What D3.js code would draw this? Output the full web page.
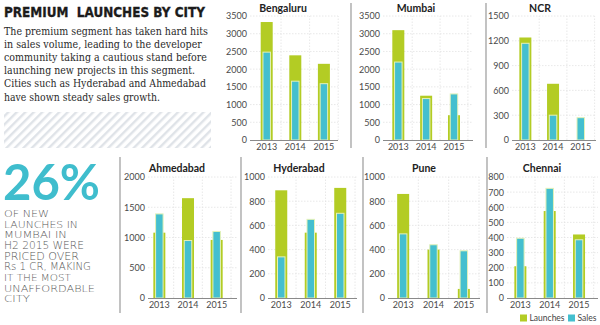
<!DOCTYPE html>
<html><head><meta charset="utf-8">
<script src="https://cdn.jsdelivr.net/npm/d3@7"></script>
<style>html,body{margin:0;padding:0;background:#fff;}svg{display:block;}</style>
</head><body>
<svg id="c" width="600" height="325"></svg>
<script>
// ---- data ----
const years = ["2013", "2014", "2015"];
const cities = ["Bengaluru", "Mumbai", "NCR", "Ahmedabad", "Hyderabad", "Pune", "Chennai"];
const launches = [
  [3330, 2390, 2150],
  [3100, 1250, 700],
  [1240, 680, 0],
  [1080, 1650, 960],
  [890, 540, 910],
  [860, 400, 75],
  [210, 575, 420]
];
const sales = [
  [2480, 1660, 1590],
  [2200, 1170, 1300],
  [1170, 300, 270],
  [1390, 950, 1100],
  [340, 650, 700],
  [530, 440, 390],
  [395, 725, 385]
];
const yMax = [3500, 3500, 1500, 2000, 1000, 1000, 800];
const yStep = [500, 500, 300, 500, 200, 200, 100];
const seriesNames = ["Launches", "Sales"];
const titleText = "PREMIUM  LAUNCHES BY CITY";
const introLines = [
  "The premium segment has taken hard hits",
  "in sales volume, leading to the developer",
  "community taking a cautious stand before",
  "launching new projects in this segment.",
  "Cities such as Hyderabad and Ahmedabad",
  "have shown steady sales growth."
];
const bigStat = "26%";
const statLines = ["OF NEW", "LAUNCHES IN", "MUMBAI IN", "H2 2015 WERE", "PRICED OVER",
  "Rs 1 CR, MAKING", "IT THE MOST", "UNAFFORDABLE", "CITY"];

// ---- layout ----
const GREEN = "#b3cc24", CYAN = "#44bfcf";
const layout = [
  {ax: 250, ax1: 338, b0: 252.4, b1: 338.2, y0: 140, y1: 16, tx: 283, ty: 11.5},
  {ax: 383, ax1: 473, b0: 384.4, b1: 467.9, y0: 140, y1: 16, tx: 416, ty: 11.5},
  {ax: 512, ax1: 596, b0: 511.5, b1: 594.6, y0: 140, y1: 16, tx: 540, ty: 11.5},
  {ax: 148, ax1: 237, b0: 145, b1: 231, y0: 298, y1: 177, tx: 177, ty: 171.5},
  {ax: 268, ax1: 357, b0: 266.5, b1: 355, y0: 298, y1: 177, tx: 299, ty: 171.5},
  {ax: 388, ax1: 480, b0: 388, b1: 479, y0: 298, y1: 177, tx: 424, ty: 171.5},
  {ax: 507, ax1: 598, b0: 505.7, b1: 593.7, y0: 298, y1: 177, tx: 542, ty: 171.5}
];
const separators = [
  {x: 351, y0: 3, y1: 148}, {x: 486, y0: 3, y1: 148},
  {x: 120, y0: 157, y1: 313}, {x: 241, y0: 157, y1: 313},
  {x: 363, y0: 157, y1: 313}, {x: 487, y0: 157, y1: 313}
];

const svg = d3.select("#c");
const defs = svg.append("defs");
const pat = defs.append("pattern").attr("id", "hatch").attr("patternUnits", "userSpaceOnUse")
  .attr("width", 6).attr("height", 6).attr("patternTransform", "rotate(45)");
pat.append("rect").attr("width", 6).attr("height", 6).attr("fill", "#fff");
pat.append("rect").attr("width", 2.4).attr("height", 6).attr("fill", "#dfe3e8");

// text fitted horizontally to a target width via scale transform
function fitText(str, x, y, w, attrs) {
  const t = svg.append("text").attr("x", 0).attr("y", 0).text(str).style("white-space", "pre");
  Object.entries(attrs).forEach(([k, v]) => t.attr(k, v));
  const nat = t.node().getComputedTextLength();
  const sx = nat > 0 ? w / nat : 1;
  t.attr("transform", `translate(${x},${y}) scale(${sx},1)`);
  return t;
}

// ---- left text block ----
fitText(titleText, 4, 17, 201, {"font-family": "DejaVu Sans", "font-weight": "bold", "font-size": 14,
  fill: "#1b1b1b", stroke: "#1b1b1b", "stroke-width": 0.35});
const introW = [204, 198, 203, 191, 202, 156];
introLines.forEach((l, i) => {
  fitText(l, 4, 34.5 + i * 13.2, introW[i], {"font-family": "DejaVu Serif", "font-size": 11.2, fill: "#2a2a2a"});
});
svg.append("rect").attr("x", 4).attr("y", 112).attr("width", 207).attr("height", 36).attr("fill", "url(#hatch)");

fitText(bigStat, 3, 200, 97, {"font-family": "Lato", "font-weight": "bold", "font-size": 49, fill: "#3fbdcd"});
const statW = [45, 74, 63, 80, 75, 87, 67, 91, 26];
statLines.forEach((l, i) => {
  fitText(l, 4, 217 + i * 10.67, statW[i], {"font-family": "DejaVu Sans", "font-weight": 200, "font-size": 9.6, fill: "#585858"});
});

// ---- separators ----
separators.forEach(s => {
  svg.append("line").attr("x1", s.x).attr("x2", s.x).attr("y1", s.y0).attr("y2", s.y1)
    .attr("stroke", "#9a9a9a").attr("stroke-width", 1.2);
});

// ---- panels ----
cities.forEach((city, ci) => {
  const L = layout[ci];
  const g = svg.append("g");
  const x = d3.scaleBand().domain(years).range([L.b0, L.b1]);
  const y = d3.scaleLinear().domain([0, yMax[ci]]).range([L.y0, L.y1]);
  const ticks = d3.range(0, yMax[ci] + 1, yStep[ci]);

  // grid
  g.selectAll(".hg").data(ticks.slice(1)).join("line")
    .attr("x1", L.ax).attr("x2", L.ax1).attr("y1", d => y(d)).attr("y2", d => y(d))
    .attr("stroke", "#e2e2e2").attr("stroke-width", 0.8).attr("stroke-dasharray", "1.5,1.5");
  g.selectAll(".vg").data(years).join("line")
    .attr("x1", d => x(d) + x.step()).attr("x2", d => x(d) + x.step())
    .attr("y1", L.y0).attr("y2", L.y1)
    .attr("stroke", "#e2e2e2").attr("stroke-width", 0.8).attr("stroke-dasharray", "1.5,1.5");

  // bars
  const gw = 12, cw = 7.5;
  g.selectAll(".l").data(years).join("rect")
    .attr("x", d => x(d) + x.bandwidth() / 2 - gw / 2).attr("width", gw)
    .attr("y", (d, i) => y(launches[ci][i])).attr("height", (d, i) => L.y0 - y(launches[ci][i]))
    .attr("fill", GREEN);
  g.selectAll(".s").data(years).join("rect")
    .attr("x", d => x(d) + x.bandwidth() / 2 - cw / 2).attr("width", cw)
    .attr("y", (d, i) => y(sales[ci][i])).attr("height", (d, i) => L.y0 - y(sales[ci][i]))
    .attr("fill", CYAN).attr("stroke", "#e3f1b8").attr("stroke-width", 1);

  // axes
  const ya = d3.axisLeft(y).tickValues(ticks).tickSize(0).tickPadding(0).tickFormat(d3.format("d"));
  const yg = g.append("g").attr("transform", `translate(${L.ax - 3},0)`).call(ya);
  yg.select(".domain").remove();
  yg.selectAll("text").attr("font-family", "Lato").attr("font-size", 9).attr("fill", "#4a4a4a");

  const xa = d3.axisBottom(x).tickSize(0).tickPadding(4);
  const xg = g.append("g").attr("transform", `translate(0,${L.y0})`).call(xa);
  xg.select(".domain").remove();
  xg.selectAll("text").attr("font-family", "Lato").attr("font-size", 9).attr("fill", "#4a4a4a");
  g.append("line").attr("x1", L.ax).attr("x2", L.ax1).attr("y1", L.y0 + 0.5).attr("y2", L.y0 + 0.5)
    .attr("stroke", "#8a8a8a").attr("stroke-width", 1);

  g.append("text").attr("x", L.tx).attr("y", L.ty).attr("text-anchor", "middle").text(city)
    .attr("font-family", "Lato").attr("font-weight", "bold").attr("font-size", 10.5).attr("fill", "#222");
});

// ---- legend ----
const lg = svg.append("g");
const legX = [520, 568];
seriesNames.forEach((n, i) => {
  lg.append("rect").attr("x", legX[i]).attr("y", 314.5).attr("width", 7).attr("height", 7)
    .attr("fill", i === 0 ? GREEN : CYAN);
  lg.append("text").attr("x", legX[i] + 9.5).attr("y", 321).text(n)
    .attr("font-family", "Lato").attr("font-size", 8.5).attr("fill", "#444");
});
</script>
</body></html>
